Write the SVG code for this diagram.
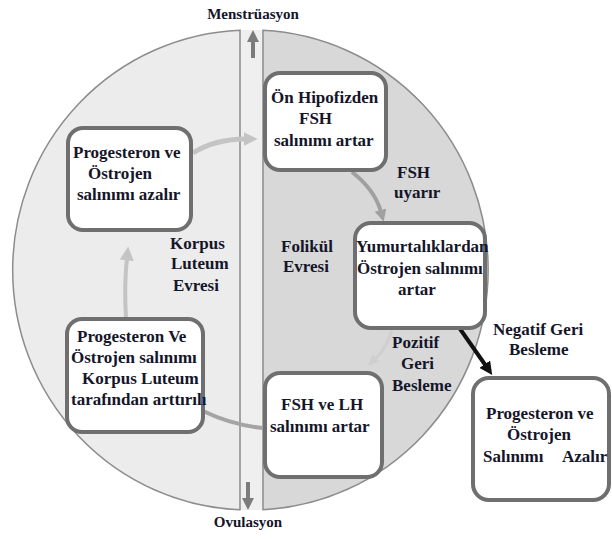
<svg xmlns="http://www.w3.org/2000/svg" width="612" height="539" viewBox="0 0 612 539">
  <style>
    .t { font-family: "Liberation Serif", "Times New Roman", serif; font-weight: bold; font-size: 17px; fill: #15152a; }
    .s { font-size: 15px; }
    .box { fill: #ffffff; stroke: #6f6f6f; stroke-width: 4; }
    .half { stroke: #8c8c8c; stroke-width: 1.5; }
    .c { fill: none; }
  </style>
  <defs>
    <marker id="hLight" markerUnits="userSpaceOnUse" markerWidth="14" markerHeight="14" viewBox="0 0 12 12" refX="2" refY="6" orient="auto">
      <path d="M0,0 L12,6 L0,12 z" fill="#c4c4c4"/>
    </marker>
    <marker id="hMid" markerUnits="userSpaceOnUse" markerWidth="12" markerHeight="12" viewBox="0 0 12 12" refX="2" refY="6" orient="auto">
      <path d="M0,0 L12,6 L0,12 z" fill="#a0a0a0"/>
    </marker>
    <marker id="hPale" markerUnits="userSpaceOnUse" markerWidth="11" markerHeight="11" viewBox="0 0 12 12" refX="2" refY="6" orient="auto">
      <path d="M0,0 L12,6 L0,12 z" fill="#cfcfcf"/>
    </marker>
    <marker id="hDark" markerUnits="userSpaceOnUse" markerWidth="12" markerHeight="12" viewBox="0 0 12 12" refX="2" refY="6" orient="auto">
      <path d="M0,0 L12,6 L0,12 z" fill="#7c7c7c"/>
    </marker>
    <marker id="hBlack" markerUnits="userSpaceOnUse" markerWidth="13" markerHeight="13" viewBox="0 0 12 12" refX="2" refY="6" orient="auto">
      <path d="M0,0 L12,6 L0,12 z" fill="#111111"/>
    </marker>
  </defs>

  <rect x="0" y="0" width="612" height="539" fill="#ffffff"/>

  <!-- cycle background -->
  <g id="cycle">
    <rect x="240" y="30" width="23" height="480" fill="#efefef"/>
    <path class="half" d="M240,30.2 A237,240 0 0 0 240,509.8 Z" fill="#ececec"/>
    <path class="half" d="M263,30.3 A237,240 0 0 1 263,509.7 Z" fill="#d8d8d8"/>
  </g>

  <!-- connectors -->
  <g id="connectors" class="c">
    <path d="M253,58 L253,40" stroke="#7c7c7c" stroke-width="4" marker-end="url(#hDark)"/>
    <path d="M248,482 L248,500" stroke="#7c7c7c" stroke-width="4" marker-end="url(#hDark)"/>
    <path d="M193,153 Q215,139 246,139" stroke="#c4c4c4" stroke-width="5" fill="none" marker-end="url(#hLight)"/>
    <path d="M352,172 Q375,190 381,212" stroke="#a0a0a0" stroke-width="4" fill="none" marker-end="url(#hMid)"/>
    <path d="M392,330 Q387,348 375,359" stroke="#cfcfcf" stroke-width="3" fill="none" marker-end="url(#hPale)"/>
    <path d="M263,428 Q232,425 203,411" stroke="#a4a4a4" stroke-width="4" fill="none"/>
    <path d="M126,318 Q124,285 127,258" stroke="#c4c4c4" stroke-width="4" fill="none" marker-end="url(#hLight)"/>
    <path d="M458,326 L486,366" stroke="#111111" stroke-width="4" fill="none" marker-end="url(#hBlack)"/>
  </g>

  <!-- phase / edge labels -->
  <g id="labels">
    <text class="t s" x="253" y="19" text-anchor="middle">Menstrüasyon</text>
    <text class="t s" x="248" y="527" text-anchor="middle">Ovulasyon</text>
    <text class="t" x="170" y="249">Korpus</text>
    <text class="t" x="171" y="269">Luteum</text>
    <text class="t" x="173" y="291">Evresi</text>
    <text class="t" x="281" y="252">Folikül</text>
    <text class="t" x="283" y="272">Evresi</text>
    <text class="t" x="397" y="178">FSH</text>
    <text class="t" x="394" y="198">uyarır</text>
    <text class="t" x="392" y="348">Pozitif</text>
    <text class="t" x="401" y="369">Geri</text>
    <text class="t" x="392" y="391">Besleme</text>
    <text class="t" x="493" y="335">Negatif Geri</text>
    <text class="t" x="509" y="355">Besleme</text>
  </g>

  <g id="n1">
    <rect class="box" x="68" y="128" width="123" height="102" rx="15"/>
    <text class="t" x="73" y="158">Progesteron ve</text>
    <text class="t" x="88" y="179">Östrojen</text>
    <text class="t" x="77" y="200">salınımı azalır</text>
  </g>

  <g id="n2">
    <rect class="box" x="265" y="73" width="121" height="97" rx="15"/>
    <text class="t" x="271" y="103">Ön Hipofizden</text>
    <text class="t" x="299" y="124">FSH</text>
    <text class="t" x="274" y="146">salınımı artar</text>
  </g>

  <g id="n3">
    <rect class="box" x="355" y="223" width="130" height="105" rx="16"/>
    <text class="t" x="356" y="252">Yumurtalıklardan</text>
    <text class="t" x="357" y="274">Östrojen salınımı</text>
    <text class="t" x="417" y="295" text-anchor="middle">artar</text>
  </g>

  <g id="n4">
    <rect class="box" x="265" y="373" width="117" height="104" rx="15"/>
    <text class="t" x="281" y="410">FSH ve LH</text>
    <text class="t" x="270" y="432">salınımı artar</text>
  </g>

  <g id="n5">
    <rect class="box" x="67" y="319" width="136" height="113" rx="15"/>
    <text class="t" x="77" y="342">Progesteron Ve</text>
    <text class="t" x="71" y="363">Östrojen salınımı</text>
    <text class="t" x="82" y="384">Korpus Luteum</text>
    <text class="t" x="71" y="405">tarafından arttırılı</text>
  </g>

  <g id="n6">
    <rect class="box" x="473" y="378" width="136" height="122" rx="16"/>
    <text class="t" x="486" y="419">Progesteron ve</text>
    <text class="t" x="507" y="440">Östrojen</text>
    <text class="t" x="483" y="462">Salınımı<tspan x="562">Azalır</tspan></text>
  </g>
</svg>
